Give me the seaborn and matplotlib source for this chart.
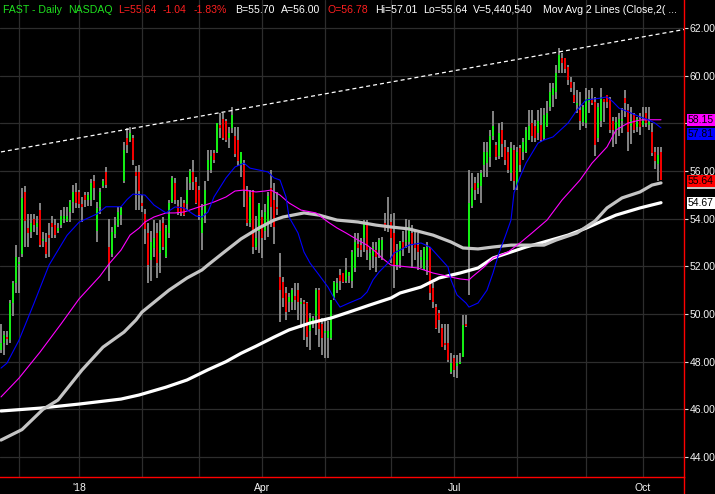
import numpy as np
import pandas as pd
import seaborn as sns
import matplotlib
matplotlib.use("Agg")
import matplotlib.pyplot as plt
from matplotlib.lines import Line2D

# NYSE sessions shown on the chart
holidays = ["2017-11-23", "2017-12-25", "2018-01-01", "2018-01-15", "2018-02-19",
            "2018-03-30", "2018-05-28", "2018-07-04", "2018-09-03"]
dates = pd.bdate_range("2017-11-22", "2018-10-09", freq="C", holidays=holidays)

open_ = [
    48.5, 48.8, 49.05, 48.9, 50.45, 51.3, 52.1, 52.5, 55.1, 53.6,
    53.45, 54.0, 53.65, 54.35, 53.05, 53.0, 53.3, 53.8, 53.75, 53.5,
    53.75, 54.0, 53.9, 54.3, 54.7, 55.1, 55.1, 54.6, 55.0, 54.8,
    54.8, 55.6, 53.5, 54.5, 55.35, 55.95, 52.8, 52.5, 53.35, 53.75,
    54.15, 55.6, 57.4, 57.3, 57.4, 55.95, 55.95, 54.65, 54.2, 53.4,
    52.25, 52.75, 53.4, 52.55, 53.8, 52.4, 53.4, 54.7, 55.5, 54.55,
    54.5, 54.65, 54.6, 55.5, 55.95, 55.55, 55.2, 53.4, 54.25, 56.05,
    56.05, 56.75, 56.8, 57.95, 58.2, 58.1, 57.4, 57.8, 57.45, 57.3,
    56.25, 56.25, 55.2, 53.8, 55.1, 52.8, 53.5, 54.05, 53.5, 53.85,
    55.3, 54.8, 54.5, 51.55, 51.35, 50.9, 50.5, 50.5, 50.75, 51.0,
    50.4, 50.5, 50.45, 49.3, 49.6, 49.9, 51.0, 49.6, 49.2, 49.0,
    49.0, 50.65, 51.0, 51.65, 51.7, 51.4, 51.6, 51.4, 51.95, 52.95,
    52.9, 53.2, 53.75, 52.25, 52.45, 52.7, 52.7, 52.7, 53.8, 53.7,
    53.85, 53.4, 52.05, 52.25, 53.0, 53.0, 53.0, 53.4, 52.95, 52.9,
    52.25, 51.9, 52.25, 52.75, 51.1, 50.3, 50.05, 49.4, 48.8, 48.8,
    47.55, 48.15, 47.8, 47.9, 48.2, 49.6, 52.7, 54.55, 55.5, 55.3,
    55.35, 56.25, 56.35, 56.6, 57.45, 57.1, 56.65, 57.7, 57.0, 56.8,
    55.9, 56.9, 55.4, 56.95, 56.8, 56.8, 57.3, 58.0, 57.9, 57.6,
    57.95, 57.4, 57.9, 58.7, 59.2, 59.3, 60.25, 60.75, 60.75, 60.35,
    59.75, 59.2, 58.75, 58.55, 58.05, 58.0, 58.9, 59.0, 58.9, 57.4,
    58.1, 59.0, 59.2, 59.0, 58.1, 57.7, 57.85, 58.1, 59.05, 58.55,
    57.9, 58.35, 57.85, 58.2, 57.95, 58.45, 57.95, 57.65, 56.8, 56.3,
    56.78]
high = [
    49.6, 49.3, 49.3, 50.6, 51.4, 52.9, 52.4, 55.3, 55.35, 54.2,
    54.2, 54.2, 54.1, 54.65, 53.45, 53.4, 53.8, 54.1, 54.0, 53.8,
    54.35, 54.5, 54.5, 54.8, 55.4, 55.5, 55.2, 54.9, 55.1, 55.1,
    55.65, 55.85, 54.7, 55.3, 55.65, 56.15, 54.0, 53.65, 54.05, 54.5,
    54.5, 57.2, 57.8, 57.85, 57.5, 56.2, 56.25, 55.0, 54.4, 53.8,
    53.5, 53.95, 53.8, 53.95, 54.05, 53.75, 54.8, 55.8, 55.7, 54.8,
    54.9, 54.8, 55.75, 56.1, 56.45, 55.75, 55.35, 54.6, 55.6, 56.9,
    56.9, 56.9, 58.0, 58.45, 58.45, 58.2, 57.85, 58.7, 57.85, 57.85,
    56.8, 56.45, 55.35, 55.2, 55.2, 54.1, 54.65, 54.35, 54.6, 55.1,
    56.05, 55.5, 55.1, 52.55, 51.55, 51.15, 50.9, 51.1, 51.3, 51.3,
    50.65, 50.6, 50.5, 50.05, 49.9, 51.1, 51.1, 49.85, 49.7, 49.7,
    50.6, 51.4, 51.5, 51.9, 51.7, 52.35, 51.75, 52.7, 53.4, 53.4,
    53.2, 53.95, 53.95, 52.8, 53.0, 53.0, 53.2, 53.25, 54.25, 54.9,
    54.2, 54.25, 52.95, 53.05, 53.5, 54.0, 53.95, 53.75, 53.5, 53.4,
    52.7, 52.8, 53.0, 52.8, 51.3, 50.4, 50.15, 49.6, 49.6, 49.6,
    48.35, 48.3, 48.3, 48.35, 49.95, 49.95, 56.05, 55.9, 55.75, 55.9,
    56.05, 57.2, 57.2, 57.7, 58.5, 57.2, 58.0, 58.05, 57.3, 57.0,
    57.2, 57.1, 57.0, 57.1, 57.4, 57.85, 58.55, 58.55, 58.15, 58.55,
    58.65, 58.65, 58.95, 59.7, 59.7, 60.45, 61.15, 60.95, 60.75, 60.45,
    59.95, 59.75, 59.4, 59.3, 58.75, 59.5, 59.4, 59.5, 59.1, 58.85,
    59.5, 59.0, 59.2, 59.1, 58.25, 58.25, 58.45, 58.65, 59.4, 58.8,
    58.7, 58.45, 58.25, 58.45, 58.7, 58.7, 58.7, 58.0, 57.0, 57.0,
    57.01]
low = [
    48.35, 48.3, 48.7, 48.8, 49.9, 50.9, 50.9, 52.4, 52.8, 52.8,
    53.2, 53.45, 53.3, 52.8, 52.8, 52.35, 52.4, 53.2, 53.2, 53.4,
    53.6, 53.8, 53.85, 53.85, 54.25, 54.45, 54.45, 53.85, 54.5, 54.55,
    54.55, 54.8, 53.0, 54.2, 55.3, 55.3, 51.4, 52.4, 53.2, 53.65,
    53.75, 55.5, 56.75, 57.2, 56.25, 54.35, 54.35, 54.3, 52.95, 51.3,
    51.4, 52.4, 51.5, 51.7, 52.7, 52.35, 53.2, 54.65, 54.6, 54.15,
    54.1, 54.1, 54.35, 55.2, 55.2, 54.6, 53.95, 52.7, 53.8, 55.6,
    55.9, 56.35, 56.75, 57.4, 57.3, 57.2, 56.95, 57.6, 56.6, 56.2,
    55.75, 54.5, 53.7, 53.65, 52.5, 52.7, 52.55, 52.35, 53.1, 53.25,
    53.65, 52.95, 54.15, 49.65, 50.3, 49.75, 50.1, 50.15, 50.15, 49.75,
    49.4, 48.9, 48.6, 48.5, 49.4, 49.1, 48.6, 48.3, 48.15, 48.15,
    48.9, 50.6, 50.9, 51.0, 51.3, 51.3, 51.3, 51.1, 51.75, 52.4,
    52.4, 52.6, 52.25, 51.85, 51.95, 51.75, 52.35, 52.25, 53.5, 53.45,
    52.15, 51.1, 51.85, 51.95, 52.45, 52.75, 52.55, 51.95, 52.25, 51.85,
    51.95, 51.85, 51.65, 50.6, 50.25, 49.35, 49.2, 48.6, 48.5, 48.0,
    47.5, 47.35, 47.3, 47.9, 48.2, 49.45, 50.8, 54.45, 54.8, 55.05,
    54.65, 55.75, 55.75, 56.15, 57.3, 56.45, 56.5, 56.6, 56.25, 55.9,
    55.6, 55.2, 55.2, 55.95, 56.45, 56.75, 57.3, 57.2, 57.2, 57.3,
    57.2, 57.3, 57.85, 58.5, 58.7, 59.0, 60.1, 60.1, 60.1, 59.6,
    59.3, 58.85, 58.45, 57.7, 57.9, 57.8, 58.45, 58.75, 56.65, 57.2,
    57.85, 58.05, 58.65, 57.6, 57.0, 57.15, 57.45, 57.6, 58.25, 56.85,
    57.15, 57.6, 57.65, 57.5, 57.85, 57.85, 57.7, 56.65, 56.1, 55.6,
    55.64]
close = [
    48.8, 49.1, 48.95, 50.45, 51.3, 52.4, 52.2, 54.85, 53.9, 53.4,
    53.8, 53.75, 53.8, 52.9, 53.15, 52.5, 53.2, 53.65, 53.3, 53.6,
    54.1, 54.1, 54.1, 54.7, 55.1, 54.65, 54.6, 54.5, 54.8, 55.0,
    55.5, 55.3, 54.45, 55.1, 55.6, 55.4, 52.1, 53.45, 53.75, 54.3,
    54.45, 56.9, 57.1, 57.6, 56.45, 55.8, 55.15, 54.55, 53.55, 52.05,
    53.0, 53.2, 52.15, 53.5, 52.8, 53.6, 54.65, 55.7, 54.8, 54.25,
    54.25, 54.15, 55.2, 56.0, 55.55, 54.65, 54.15, 54.35, 55.2, 56.45,
    56.65, 56.45, 58.0, 57.8, 57.4, 57.3, 57.6, 58.35, 56.7, 56.4,
    56.8, 55.2, 53.8, 54.9, 52.8, 53.2, 54.6, 53.2, 54.3, 54.95,
    54.5, 53.65, 54.4, 51.0, 50.65, 50.1, 50.7, 51.0, 50.6, 50.5,
    50.5, 50.4, 49.05, 49.85, 49.85, 51.0, 49.35, 49.0, 49.3, 49.3,
    50.6, 51.35, 51.3, 51.4, 51.35, 51.85, 51.75, 52.6, 53.0, 52.75,
    52.7, 53.8, 52.7, 52.55, 52.8, 52.4, 53.1, 53.1, 53.6, 53.6,
    53.2, 52.05, 52.7, 53.0, 52.75, 53.1, 53.65, 52.95, 52.75, 52.6,
    52.4, 52.75, 52.8, 50.9, 50.5, 49.4, 49.75, 48.6, 48.7, 48.05,
    47.95, 47.65, 47.95, 48.0, 49.55, 49.5, 54.65, 55.3, 55.2, 55.5,
    55.9, 56.8, 56.8, 57.45, 57.9, 56.6, 57.6, 57.15, 56.45, 56.05,
    56.95, 55.6, 56.8, 56.25, 57.2, 57.7, 57.9, 57.45, 57.4, 58.1,
    57.3, 58.35, 58.45, 59.3, 59.5, 60.1, 60.85, 60.55, 60.3, 59.8,
    59.5, 58.9, 58.85, 58.1, 58.7, 59.0, 59.05, 58.85, 57.1, 58.7,
    59.05, 58.9, 58.9, 57.7, 57.7, 58.05, 58.2, 58.2, 58.85, 57.65,
    58.15, 57.7, 58.2, 57.85, 58.15, 58.0, 58.05, 56.75, 56.4, 56.68,
    55.64]

# moving averages at sample sessions (index into dates)
ma20_idx = [0, 2, 6, 11, 16, 22, 26, 32, 35, 40, 42, 44, 48, 51, 55, 58, 61, 65, 67, 69,
            71, 75, 78, 81, 83, 86, 89, 91, 93, 95, 96, 99, 101, 103, 106, 109, 111, 113, 116, 120,
            122, 124, 126, 129, 131, 133, 136, 140, 143, 146, 149, 150, 152, 155, 156, 159, 162, 164, 166, 168,
            170, 171, 173, 175, 177, 179, 181, 184, 189, 192, 195, 200, 202, 204, 206, 210, 213, 216, 218, 220]
ma20 = [47.73, 47.94, 48.9, 50.45, 52.05, 53.3, 53.85, 54.2, 54.5, 54.5,
        54.8, 55.03, 54.99, 54.57, 54.24, 54.49, 54.45, 54.11, 54.07, 54.28,
        54.91, 55.71, 56.17, 56.33, 56.12, 56.04, 55.96, 55.71, 55.62, 54.91,
        54.07, 53.4, 52.6, 52.14, 51.64, 51.13, 50.67, 50.29, 50.46, 50.67,
        50.92, 51.43, 51.76, 52.14, 52.56, 52.68, 52.89, 52.98, 52.81, 52.39,
        51.97, 51.43, 50.8, 50.46, 50.29, 50.46, 51.0, 51.72, 52.56, 53.23,
        53.94, 55.08, 55.75, 56.33, 56.75, 57.17, 57.3, 57.43, 58.01, 58.56,
        58.98, 59.06, 59.11, 58.9, 58.64, 58.43, 58.27, 58.14, 58.01, 57.81]

ma50_idx = [0, 6, 13, 20, 26, 33, 36, 40, 43, 46, 48, 51, 55, 58, 61, 65, 68, 71, 75, 78,
            81, 85, 88, 90, 93, 96, 100, 105, 109, 112, 115, 119, 122, 125, 127, 130, 133, 136, 139, 144,
            150, 153, 156, 157, 161, 164, 169, 173, 177, 182, 187, 193, 197, 202, 205, 209, 213, 216, 220]
ma50 = [46.52, 47.31, 48.4, 49.58, 50.63, 51.59, 52.1, 52.68, 53.31, 53.6,
        53.86, 54.07, 54.24, 54.24, 54.28, 54.45, 54.57, 54.7, 54.91, 55.16,
        55.2, 55.12, 55.16, 55.2, 54.99, 54.66, 54.36, 54.24, 53.86, 53.61,
        53.4, 53.1, 52.89, 52.6, 52.35, 52.05, 52.01, 51.97, 51.93, 51.72,
        51.55, 51.47, 51.43, 51.55, 51.97, 52.35, 52.6, 52.98, 53.4, 53.94,
        54.78, 55.62, 56.33, 57.01, 57.72, 58.01, 58.14, 58.15, 58.15]

ma100_idx = [0, 7, 14, 19, 27, 34, 41, 45, 47, 56, 62, 67, 69, 74, 80, 86, 91, 94, 101, 106,
             112, 119, 125, 130, 136, 140, 144, 150, 154, 159, 164, 170, 175, 181, 185, 192, 198, 202, 207, 213,
             217, 220]
ma100 = [44.71, 45.15, 46.0, 46.39, 47.65, 48.61, 49.24, 49.75, 50.08, 51.0,
         51.51, 51.85, 52.06, 52.56, 53.15, 53.61, 53.94, 54.07, 54.24, 54.15,
         53.94, 53.86, 53.73, 53.65, 53.57, 53.44, 53.31, 53.02, 52.77, 52.73,
         52.81, 52.89, 52.89, 52.89, 53.1, 53.4, 53.9, 54.45, 54.87, 55.12,
         55.41, 55.5]

ma200_idx = [0, 13, 26, 40, 46, 55, 62, 69, 75, 80, 85, 91, 96, 103, 110, 116, 123, 130, 133, 140,
             146, 153, 159, 164, 170, 175, 181, 189, 195, 200, 205, 213, 220]
ma200 = [45.93, 46.05, 46.22, 46.43, 46.6, 46.93, 47.23, 47.66, 48.0, 48.35,
         48.65, 49.03, 49.33, 49.62, 49.83, 50.08, 50.38, 50.67, 50.88, 51.13,
         51.51, 51.72, 51.93, 52.35, 52.6, 52.81, 53.02, 53.31, 53.6, 53.88,
         54.15, 54.45, 54.67]

# dotted resistance line
trend_idx = [0, 238]
trend_val = [56.8, 62.17]

y_ticks = [44, 46, 48, 50, 52, 54, 56, 58, 60, 62]
quarter_labels = {1: "'18", 4: "Apr", 7: "Jul", 10: "Oct"}

GREEN = "#14ee14"
RED = "#f20000"
TXT_GREEN = "#1fe01f"
TXT_RED = "#ff1f1f"

sns.set_theme(style="dark", rc={"axes.facecolor": "black", "figure.facecolor": "black"})
plt.rcParams["font.family"] = ["Liberation Sans", "DejaVu Sans"]

W, H = 715, 494
fig = plt.figure(figsize=(W / 100, H / 100), dpi=100)
ax = fig.add_axes([0, 17 / H, 684 / W, 477 / H])
ax.set_facecolor("black")

n = min(len(dates), len(close))
df = pd.DataFrame({"date": dates[:n], "open": open_[:n], "high": high[:n],
                   "low": low[:n], "close": close[:n]})
df["i"] = np.arange(n)
up = df["close"] >= df["open"]

# candles: grey wicks, coloured bodies
ax.vlines(df["i"], df["low"], df["high"], color="#8e8e8e", linewidth=1.3, zorder=2)
body = (df["close"] - df["open"]).abs().clip(lower=0.07)
ax.bar(df["i"], body, bottom=np.minimum(df["open"], df["close"]), width=0.95,
       color=np.where(up, GREEN, RED), linewidth=0, zorder=3)

# moving averages
for idx, val, col, lw in [(ma200_idx, ma200, "#ffffff", 2.3),
                          (ma100_idx, ma100, "#c4c4c4", 2.3),
                          (ma50_idx, ma50, "#ff00ff", 0.8),
                          (ma20_idx, ma20, "#0000ff", 0.8)]:
    sns.lineplot(x=idx, y=val, ax=ax, color=col, linewidth=lw, zorder=4)

ax.plot(trend_idx, trend_val, color="white", linewidth=0.9, dashes=(3.2, 2.4), zorder=4)

# axes
ax.set_xlim(-1 / 3, 683 / 3)
ax.set_ylim(43.16, 63.175)
ax.yaxis.tick_right()
ax.set_yticks(y_ticks)
# 58.00 sits under the moving-average tags, as on the original
ax.set_yticklabels(["" if v == 58 else f"{v:.2f}" for v in y_ticks])
ax.tick_params(axis="y", length=3, width=0.8, color="#dddddd", labelcolor="#f4f4f4",
               labelsize=7.5, pad=1)

month_pos = [i for i in range(1, n) if df["date"][i].month != df["date"][i - 1].month]
ax.set_xticks(month_pos)
ax.set_xticklabels([quarter_labels.get(df["date"][i].month, "") for i in month_pos])
ax.tick_params(axis="x", length=3, width=0.8, color="#ff0000", labelcolor="#f4f4f4",
               labelsize=7.5, pad=1.5)

ax.grid(True, color="#2d2d2d", linewidth=0.9)
ax.set_axisbelow(True)
ax.set_xlabel("")
ax.set_ylabel("")
for s in ["top", "left"]:
    ax.spines[s].set_visible(False)
for s in ["right", "bottom"]:
    ax.spines[s].set_color("#ff0000")
    ax.spines[s].set_linewidth(1)
fig.add_artist(Line2D([684 / W, 684 / W], [0, 17 / H], color="#ff0000", linewidth=1))

# last-value tags on the price axis; the 100-day tag hides behind the last price,
# so only its box edge shows
tags = [(ma100[-1], "#c4c4c4", 0, False), (close[-1], "#ff0000", -1, True),
        (ma200[-1], "#ffffff", 0, True), (ma50[-1], "#ff00ff", 0, True),
        (ma20[-1], "#0000ff", -6, True)]
for val, col, dy, show in tags:
    label = f"{val:.2f}" if show else "\u2007" * 5
    ax.annotate(label, xy=(1, val), xycoords=ax.get_yaxis_transform(),
                xytext=(4, dy), textcoords="offset pixels", ha="left", va="center",
                fontsize=7.5, color="black", annotation_clip=False, zorder=6,
                bbox=dict(boxstyle="square,pad=0.1", fc=col, ec="none"))

# quote header
header = [("FAST - Daily", TXT_GREEN, 3), ("NASDAQ", TXT_GREEN, 68),
          ("L=55.64", TXT_RED, 118), ("-1.04", TXT_RED, 163), ("-1.83%", TXT_RED, 194),
          ("B=55.70", "white", 235), ("A=56.00", "white", 281), ("O=56.78", TXT_RED, 328),
          ("Hi=57.01", "white", 375), ("Lo=55.64", "white", 423), ("V=5,440,540", "white", 473),
          ("Mov Avg 2 Lines (Close,2( ...", "white", 543)]
for txt, col, xp in header:
    fig.text(xp / W, 1 - 10 / H, txt, color=col, fontsize=7.6, ha="left", va="center")

fig.savefig("out.png", dpi=100, facecolor="black")
